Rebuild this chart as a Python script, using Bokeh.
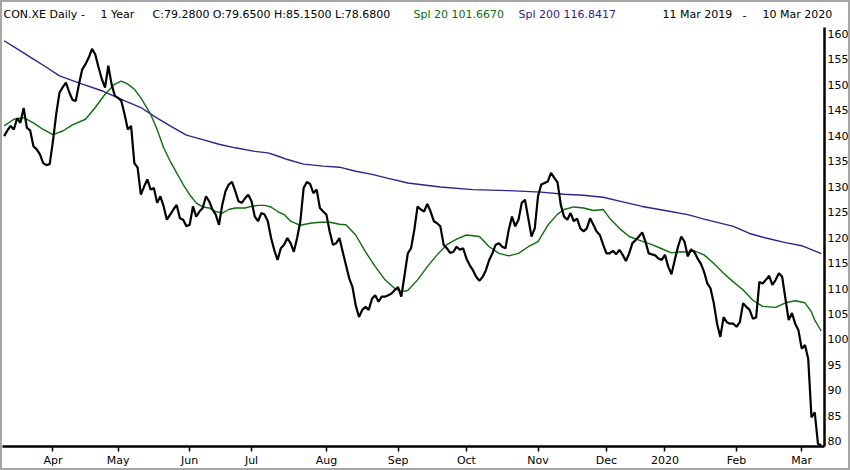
from bokeh.plotting import figure
from bokeh.models import Range1d, FixedTicker, Label
from bokeh.embed import file_html
from bokeh.resources import INLINE

# Daily closes, one per trading day, 11 Mar 2019 .. 10 Mar 2020
close = [
    139.9, 141.0, 141.9, 141.2, 143.4, 142.5, 145.4, 141.5, 141.0, 137.9,
    137.3, 136.3, 134.6, 134.2, 134.4, 138.9, 144.2, 148.4, 149.5, 150.4,
    148.5, 147.0, 146.8, 150.1, 153.0, 154.0, 155.3, 157.0, 155.9, 153.4,
    151.1, 149.4, 153.7, 150.1, 147.8, 147.4, 146.8, 144.2, 141.2, 141.9,
    134.6, 133.7, 128.4, 130.0, 131.4, 129.4, 129.7, 126.8, 128.1, 126.1,
    123.5, 124.5, 125.5, 126.4, 123.8, 123.5, 122.2, 122.5, 126.1, 124.1,
    125.1, 125.8, 128.1, 127.1, 125.5, 124.5, 122.5, 126.4, 129.1, 130.4,
    130.9, 129.1, 127.1, 126.8, 127.7, 128.4, 127.1, 124.1, 123.2, 124.8,
    124.5, 123.2, 119.9, 117.5, 115.6, 117.9, 118.6, 119.9, 118.9, 117.2,
    119.9, 123.2, 129.7, 130.9, 130.5, 128.7, 129.4, 125.8, 125.1, 124.5,
    121.2, 118.6, 118.9, 119.9, 117.2, 114.6, 112.0, 110.3, 106.7, 104.4,
    105.8, 106.4, 105.8, 108.0, 108.7, 107.4, 108.4, 108.4, 108.7, 109.0,
    109.7, 110.3, 108.4, 112.6, 116.9, 117.9, 121.5, 126.1, 125.5, 125.1,
    126.6, 125.1, 123.2, 122.8, 122.2, 118.6, 117.9, 117.0, 117.2, 118.2,
    117.6, 117.9, 115.9, 114.6, 113.6, 112.3, 111.5, 112.3, 113.6, 115.6,
    116.9, 118.6, 118.9, 118.2, 117.9, 121.5, 124.1, 122.2, 123.5, 126.8,
    127.4, 123.8, 120.2, 121.8, 128.1, 130.4, 130.7, 131.0, 132.7, 131.7,
    130.8, 126.4, 124.1, 123.5, 124.8, 123.2, 123.7, 121.8, 121.2, 121.8,
    123.8, 122.5, 121.2, 120.5, 118.6, 116.9, 116.9, 117.4, 116.7, 117.6,
    116.6, 115.4, 116.9, 118.9, 119.5, 120.2, 121.0, 119.2, 116.9, 116.7,
    116.5, 115.9, 115.6, 116.6, 114.3, 112.8, 115.6, 118.2, 120.2, 119.2,
    116.3, 117.7, 117.2, 115.9, 114.9, 113.3, 111.0, 110.0, 107.1, 103.1,
    100.5, 104.4, 103.4, 103.1, 103.1, 102.5, 103.4, 107.1, 106.4, 105.8,
    104.1, 104.3, 111.3, 111.0, 111.7, 112.5, 110.7, 111.7, 113.0, 112.3,
    108.0, 103.8, 105.2, 103.1, 101.8, 98.2, 98.9, 96.2, 84.7, 85.7,
    79.5, 79.28,
]
day = list(range(len(close)))

# 20-day simple moving average
sma20_day = [0, 3, 6, 9, 12, 15, 18, 21, 25, 28, 31, 34, 36, 38, 40, 42, 45, 47, 49,
             51, 53, 55, 57, 59, 61, 63, 65, 67, 69, 71, 74, 76, 78, 80, 82, 84, 86,
             88, 91, 94, 97, 100, 103, 105, 108, 111, 114, 117, 120, 122, 124, 127,
             130, 133, 136, 139, 142, 146, 149, 152, 155, 158, 161, 164, 167, 170,
             172, 175, 178, 181, 184, 186, 189, 192, 195, 199, 202, 205, 208, 210,
             212, 215, 218, 221, 224, 227, 230, 233, 237, 240, 243, 246, 248, 249, 251]
sma20_val = [141.9, 143.2, 143.5, 142.5, 141.2, 140.2, 140.9, 142.1, 143.2, 145.5,
             148.1, 150.1, 150.7, 150.1, 149.1, 147.4, 144.2, 141.2, 137.6, 135.0,
             132.7, 130.4, 128.4, 126.8, 126.0, 125.8, 125.1, 124.8, 125.5, 125.8,
             125.8, 126.1, 126.3, 126.3, 126.0, 125.1, 124.5, 123.2, 122.4, 122.8,
             123.0, 123.0, 122.6, 122.5, 120.5, 117.2, 114.3, 111.7, 110.0, 109.4,
             109.6, 111.7, 114.3, 116.6, 118.6, 119.7, 120.5, 120.2, 118.2, 116.9,
             116.4, 116.9, 118.2, 119.2, 122.4, 124.6, 125.5, 126.0, 125.8, 125.3,
             125.5, 123.8, 121.8, 120.2, 119.5, 118.6, 117.8, 117.0, 117.2, 117.1,
             117.4, 116.6, 114.9, 113.0, 111.3, 109.7, 107.7, 106.5, 106.3, 107.2,
             107.6, 107.2, 105.4, 103.8, 101.667]

# 200-day simple moving average
sma200_day = [0, 5, 9, 13, 17, 24, 30, 36, 42, 46, 51, 56, 61, 66, 71, 77, 81, 84,
              87, 92, 98, 103, 108, 113, 118, 124, 134, 144, 155, 165, 172, 178, 184,
              190, 196, 203, 210, 215, 224, 229, 234, 240, 245, 251]
sma200_val = [158.6, 156.6, 155.0, 153.4, 151.7, 150.1, 148.8, 147.1, 145.5, 143.8,
              141.9, 140.1, 139.2, 138.3, 137.6, 136.9, 136.6, 136.0, 135.3, 134.4,
              134.0, 133.8, 133.0, 132.4, 131.6, 130.7, 129.9, 129.4, 129.2, 128.9,
              128.5, 128.3, 127.9, 127.0, 126.1, 125.3, 124.5, 123.6, 122.2, 120.8,
              119.9, 119.0, 118.4, 116.8417]

month_day = [15, 35, 57, 76, 99, 121, 142, 164, 185, 203, 225, 245]
month_lbl = ["Apr", "May", "Jun", "Jul", "Aug", "Sep", "Oct", "Nov", "Dec", "2020", "Feb", "Mar"]
y_ticks = list(range(80, 161, 5))

header_txt = ["CON.XE Daily -", "1 Year", "C:79.2800 O:79.6500 H:85.1500 L:78.6800",
              "Spl 20 101.6670", "Spl 200 116.8417", "11 Mar 2019", "-", "10 Mar 2020"]

FONT = "DejaVu Sans"
GREEN = "#0b6e0b"
PURPLE = "#34208c"
EDGE = "2px solid #a6a6a6"

# ---- header strip (separate root, full width frame) ----
h = figure(width=850, height=24, output_backend="svg", toolbar_location=None,
           x_range=Range1d(0, 846), y_range=Range1d(0, 22),
           x_axis_location=None, y_axis_location=None,
           min_border_left=0, min_border_right=0, min_border_top=0, min_border_bottom=0,
           styles={"border-left": EDGE, "border-right": EDGE, "border-top": EDGE})
h.grid.visible = False
h.outline_line_color = None
h_x = [1, 98, 150, 411, 516, 660, 740, 760]
h_col = ["black", "black", "black", GREEN, PURPLE, "black", "black", "black"]
for txt, sx, col in zip(header_txt, h_x, h_col):
    h.add_layout(Label(x=sx, y=12, x_units="screen", y_units="screen", text=txt,
                       text_font=FONT, text_font_size="11px", text_color=col,
                       text_baseline="middle", text_align="left"))

# ---- price chart ----
p = figure(width=850, height=446, output_backend="svg", toolbar_location=None,
           x_range=Range1d(-0.5, 252), y_range=Range1d(79.01, 161.2),
           y_axis_location="right",
           min_border_left=0, min_border_top=3, min_border_right=28, min_border_bottom=24,
           styles={"border-left": EDGE, "border-right": EDGE, "border-bottom": EDGE})
p.outline_line_color = None
p.grid.visible = False
p.background_fill_color = "white"
p.border_fill_color = "white"

p.line(sma200_day, sma200_val, line_color=PURPLE, line_width=1.4)
p.line(sma20_day, sma20_val, line_color=GREEN, line_width=1.4)
p.line(day, close, line_color="black", line_width=2.2)

xa = p.xaxis[0]
xa.ticker = FixedTicker(ticks=month_day)
xa.major_label_overrides = {d: l for d, l in zip(month_day, month_lbl)}
xa.axis_line_width = 2.5
xa.axis_line_color = "black"
xa.major_tick_out = 5
xa.major_tick_in = 0
xa.major_tick_line_width = 1.5
xa.major_tick_line_color = "black"
xa.minor_tick_line_color = None
xa.major_label_text_align = "left"
xa.major_label_standoff = 2
xa.axis_label_standoff = 0
xa.major_label_text_font = FONT
xa.major_label_text_font_size = "11px"
xa.major_label_text_color = "black"

ya = p.yaxis[0]
ya.ticker = FixedTicker(ticks=y_ticks)
ya.axis_line_width = 2.5
ya.axis_line_color = "black"
ya.major_tick_out = 0
ya.major_tick_in = 0
ya.minor_tick_line_color = None
ya.major_label_standoff = 3
ya.axis_label_standoff = 0
ya.major_label_text_font = FONT
ya.major_label_text_font_size = "11px"
ya.major_label_text_color = "black"

open("out.html", "w").write(file_html([h, p], INLINE))
